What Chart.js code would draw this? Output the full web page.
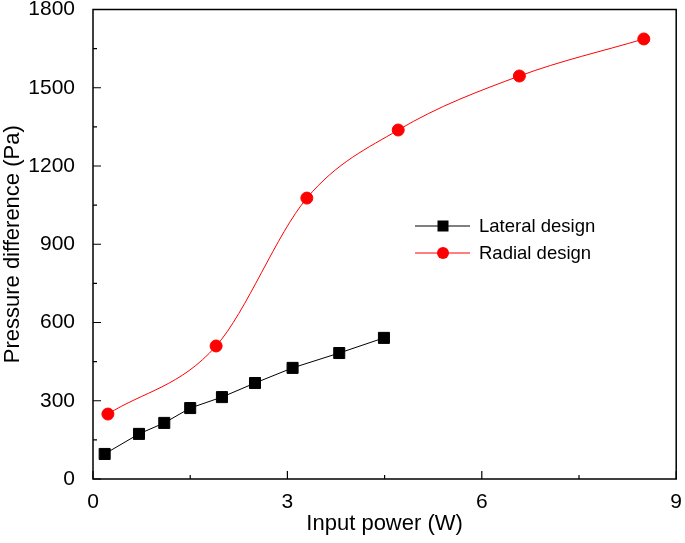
<!DOCTYPE html>
<html>
<head>
<meta charset="utf-8">
<script src="https://cdn.jsdelivr.net/npm/chart.js@4"></script>
<style>
  html, body { margin: 0; padding: 0; background: #fff; }
  #wrap { width: 685px; height: 543px; }
</style>
</head>
<body>
<div id="wrap"><canvas id="myChart"></canvas></div>
<script>
// data
const lateralPower = [0.18, 0.71, 1.10, 1.50, 1.99, 2.50, 3.08, 3.80, 4.49];
const lateralPressure = [96, 173, 215, 272, 314, 368, 426, 483, 541];
const radialPower = [0.23, 1.90, 3.30, 4.71, 6.58, 8.50];
const radialPressure = [249, 510, 1077, 1338, 1545, 1687];
const xTicks = [0, 3, 6, 9];
const yTicks = [0, 300, 600, 900, 1200, 1500, 1800];
const seriesNames = ['Lateral design', 'Radial design'];

const FONT = 'Liberation Sans, Arial, sans-serif';

const toPoints = (xs, ys) => xs.map((x, i) => ({ x: x, y: ys[i] }));

// frame, inward ticks (major + minor) and the legend inside the plot
const framePlugin = {
    id: 'frame',
    afterDraw: (chart) => {
        const { ctx, chartArea: a, scales } = chart;
        const xs = scales.x, ys = scales.y;
        ctx.save();
        ctx.strokeStyle = '#000';
        ctx.lineWidth = 1.5;
        ctx.strokeRect(a.left, a.top, a.right - a.left, a.bottom - a.top);

        ctx.lineWidth = 1.2;
        ctx.beginPath();
        // x ticks
        for (let i = 0; i < xTicks.length; i++) {
            const px = xs.getPixelForValue(xTicks[i]);
            ctx.moveTo(px, a.bottom); ctx.lineTo(px, a.bottom - 8);
            if (i < xTicks.length - 1) {
                const mx = xs.getPixelForValue((xTicks[i] + xTicks[i + 1]) / 2);
                ctx.moveTo(mx, a.bottom); ctx.lineTo(mx, a.bottom - 4);
            }
        }
        // y ticks
        for (let i = 0; i < yTicks.length; i++) {
            const py = ys.getPixelForValue(yTicks[i]);
            ctx.moveTo(a.left, py); ctx.lineTo(a.left + 8, py);
            if (i < yTicks.length - 1) {
                const my = ys.getPixelForValue((yTicks[i] + yTicks[i + 1]) / 2);
                ctx.moveTo(a.left, my); ctx.lineTo(a.left + 4, my);
            }
        }
        ctx.stroke();

        // legend
        const items = [
            { label: seriesNames[0], color: '#000', shape: 'rect', y: 226 },
            { label: seriesNames[1], color: '#ff0000', shape: 'circle', y: 253 }
        ];
        ctx.font = '18.5px ' + FONT;
        ctx.textBaseline = 'middle';
        items.forEach(it => {
            ctx.strokeStyle = it.color;
            ctx.lineWidth = 1;
            ctx.beginPath();
            ctx.moveTo(415, it.y); ctx.lineTo(470, it.y);
            ctx.stroke();
            ctx.fillStyle = it.color;
            if (it.shape === 'rect') {
                ctx.fillRect(437.5, it.y - 5.5, 11, 11);
            } else {
                ctx.beginPath();
                ctx.arc(443, it.y, 6, 0, Math.PI * 2);
                ctx.fill();
            }
            ctx.fillStyle = '#000';
            ctx.fillText(it.label, 479, it.y + 1);
        });
        ctx.restore();
    }
};

const ctx1 = document.getElementById('myChart').getContext('2d');

const myChart = new Chart(ctx1, {
    type: 'scatter',
    data: {
        datasets: [{
            label: seriesNames[0],
            data: toPoints(lateralPower, lateralPressure),
            showLine: true,
            borderColor: '#000',
            backgroundColor: '#000',
            borderWidth: 1,
            pointStyle: 'rect',
            pointRadius: 7.8,
            pointHoverRadius: 7.8,
            tension: 0
        }, {
            label: seriesNames[1],
            data: toPoints(radialPower, radialPressure),
            showLine: true,
            borderColor: '#ff0000',
            backgroundColor: '#ff0000',
            borderWidth: 1,
            pointStyle: 'circle',
            pointRadius: 6,
            pointHoverRadius: 6,
            cubicInterpolationMode: 'monotone'
        }]
    },
    options: {
        responsive: true,
        maintainAspectRatio: false,
        animation: false,
        layout: {
            padding: { left: 0, right: 0, top: 0, bottom: 6 }
        },
        scales: {
            x: {
                type: 'linear',
                min: 0,
                max: 9,
                afterBuildTicks: (s) => { s.ticks = xTicks.map(v => ({ value: v })); },
                afterFit: (s) => { s.height = 58; s.paddingRight = 5; s.paddingLeft = 0; },
                grid: { display: false },
                border: { display: false },
                ticks: {
                    color: '#000',
                    font: { family: FONT, size: 21 },
                    padding: 3,
                    maxRotation: 0,
                    callback: (v) => String(v)
                },
                title: {
                    display: true,
                    text: 'Input power (W)',
                    color: '#000',
                    font: { family: FONT, size: 22 },
                    padding: { top: 0, bottom: 0 }
                }
            },
            y: {
                type: 'linear',
                min: 0,
                max: 1800,
                afterBuildTicks: (s) => { s.ticks = yTicks.map(v => ({ value: v })); },
                afterFit: (s) => { s.width = 93; s.paddingTop = 9.5; s.paddingBottom = 0; },
                grid: { display: false },
                border: { display: false },
                ticks: {
                    color: '#000',
                    font: { family: FONT, size: 21 },
                    padding: 10,
                    callback: (v) => String(v)
                },
                title: {
                    display: true,
                    text: 'Pressure difference (Pa)',
                    color: '#000',
                    font: { family: FONT, size: 22 },
                    padding: { top: 0, bottom: 4 }
                }
            }
        },
        plugins: {
            legend: { display: false },
            tooltip: { enabled: false }
        }
    },
    plugins: [framePlugin]
});
</script>
</body>
</html>
